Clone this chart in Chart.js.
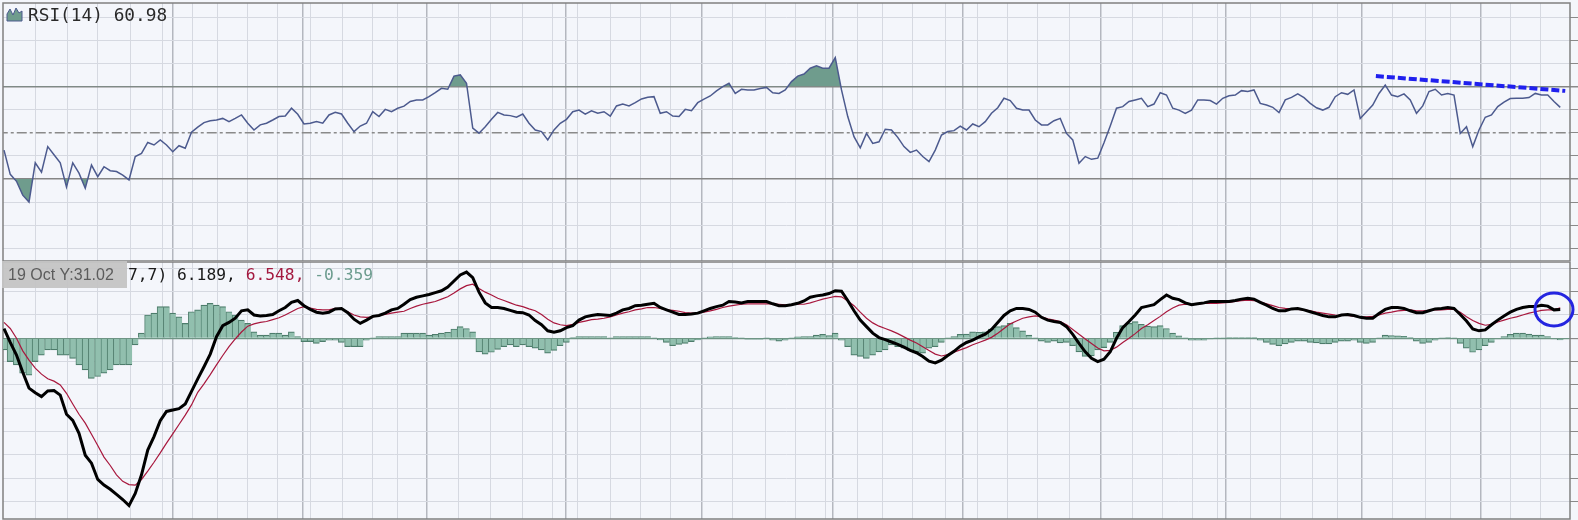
<!DOCTYPE html>
<html>
<head>
<meta charset="utf-8">
<script src="https://cdn.jsdelivr.net/npm/chart.js@4.4.1/dist/chart.umd.min.js"></script>
<style>
  html, body { margin: 0; padding: 0; background: #f4f6fb; }
  #wrap { position: relative; width: 1578px; height: 520px; overflow: hidden; }
  canvas { position: absolute; left: 0; }
  #rsi { top: 0; }
  #macd { top: 261px; }
</style>
</head>
<body>
<div id="wrap">
  <canvas id="rsi" width="1578" height="261"></canvas>
  <canvas id="macd" width="1578" height="259"></canvas>
</div>
<script>
// trading day index, one per bar
const days = Array.from({length: 250}, (_, i) => i);

const rsi = [
  42.5, 32, 29, 23, 20, 37, 33, 44, 40.5, 37,
  26.5, 37, 32.5, 26, 36, 31, 35.3, 33.6, 33.2, 31.7,
  29.6, 39.7, 41.1, 45.8, 44.7, 46.9, 44.7, 41.8, 44.4, 43.3,
  50.2, 52.4, 54.4, 55.2, 55.5, 56.2, 54.8, 56.2, 57.7, 54.1,
  51.2, 53.4, 54.1, 55.5, 57.0, 57.2, 60.6, 58.0, 53.8, 54.1,
  54.8, 54.1, 57.7, 58.8, 58.1, 54.1, 50.5, 52.9, 54.1, 59.1,
  57.0, 60.1, 59.1, 60.6,
  61.5, 63.5, 64.2, 64.2, 65.6, 67.3, 69.2, 68.8, 74.5, 75.0,
  71.4, 52, 49.8, 52.6, 55.8, 58.8, 57.7, 57.4, 56.7, 58.1,
  54.1, 51.2, 50.5, 46.9, 51.2, 54.1, 55.8, 59.1, 59.8, 58.0,
  59.5, 58.4, 59.1, 57.2, 61.6, 62.4, 61.6, 63.0, 64.6, 65.3,
  65.6, 58.4, 59.1, 57.2, 57.0, 60.1, 59.5, 63.0, 64.5, 65.9,
  68.1, 69.9, 71.4, 67.0, 68.8, 68.5, 68.5, 69.1, 69.6, 67.3,
  67.0, 68.5, 72.1, 74.5,
  75.4, 77.9, 78.9, 77.9, 77.9, 82.5, 68.5, 57.0, 48.3, 43.5,
  49.7, 45.4, 46.1, 51.5, 51.2, 48.0, 44.0, 41.5, 42.5, 39.7,
  37.5, 42.5, 49.0, 50.5, 50.9, 52.9, 51.2, 53.8, 52.6, 54.8,
  58.4, 60.8, 64.9, 63.9, 60.6, 59.8, 59.8, 55.5, 53.4, 53.4,
  55.2, 56.2, 49.7, 46.9, 36.8, 39.7, 38.5, 39.0, 45.7, 52.9,
  60.6, 61.3, 63.5, 64.2, 64.9, 61.3, 62.4, 67.3, 66.3, 60.6,
  59.8, 58.4, 59.8, 64.2,
  64.2, 63.9, 62.4, 64.9, 66.0, 66.3, 68.2, 67.8, 68.5, 62.7,
  62.0, 61.0, 58.7, 64.2, 65.3, 66.8, 65.2, 62.7, 60.8, 59.8,
  61.0, 65.6, 67.3, 66.6, 68.5, 56.2, 59.1, 62.0, 67.0, 70.6,
  66.3, 65.6, 66.8, 64.2, 58.4, 61.6, 67.8, 68.8, 66.3, 67.0,
  66.3, 49.7, 52.6, 44.0, 51.2, 56.7, 57.7, 61.3, 63.2, 64.8,
  64.9, 64.9, 65.2, 67.0, 66.3, 66.3, 63.5, 60.98
];

const macd = [
  2.1, -0.9, -3.6, -7.3, -10.7, -11.7, -12.5, -11.3, -11.2, -12.2,
  -16.3, -17.6, -20.4, -25.1, -26.8, -30.3, -31.5, -32.4, -33.5, -34.6,
  -35.9, -33.3, -29.3, -24.0, -21.1, -17.7, -15.7, -15.4, -15.1, -14.1,
  -11.4, -8.7, -6.1, -3.4, 0.35, 2.7, 3.4, 4.3, 5.9, 6.1,
  5.0, 4.8, 4.9, 5.1, 5.9, 6.6, 7.7, 8.1, 7.0, 6.2,
  5.6, 5.4, 5.6, 6.3, 6.4, 5.5, 4.1, 3.2, 3.9, 4.7,
  4.9, 5.4, 6.1, 6.4,
  7.3, 8.3, 8.8, 9.1, 9.4, 9.8, 10.2, 11.0, 12.3, 13.6,
  14.2, 13.0, 9.9, 7.6, 6.6, 6.6, 6.4, 6.0, 5.6, 5.5,
  5.0, 3.8, 2.9, 1.6, 1.3, 1.6, 2.3, 2.7, 3.9, 4.6,
  4.9, 5.1, 5.0, 4.9, 5.4, 6.1, 6.4, 7.0, 7.1, 7.3,
  7.5, 6.6, 6.1, 5.6, 5.1, 5.1, 5.2, 5.4, 5.9, 6.4,
  6.8, 7.1, 7.9, 7.8, 7.6, 7.9, 7.9, 7.9, 7.9, 7.4,
  7.0, 7.0, 7.2, 7.5,
  8.0, 8.8, 9.1, 9.3, 9.6, 10.2, 10.1, 8.1, 5.9, 3.9,
  2.5, 1.1, 0.15, -0.3, -0.8, -1.3, -1.9, -2.6, -3.1, -3.9,
  -4.9, -5.3, -4.7, -3.7, -2.8, -1.7, -0.9, -0.4, 0.3, 0.9,
  1.9, 3.4, 4.9, 5.9, 6.4, 6.4, 6.2, 5.6, 4.5, 3.9,
  3.6, 3.4, 2.5, 0.85, -1.1, -2.9, -4.3, -5.0, -4.5, -2.9,
  0, 2.3, 3.6, 5.0, 6.6, 6.9, 7.2, 8.3, 9.3, 8.6,
  8.3, 7.6, 7.2, 7.4,
  7.6, 7.9, 7.9, 7.9, 7.9, 8.1, 8.4, 8.6, 8.4, 7.7,
  7.1, 6.4, 5.9, 5.9, 6.3, 6.4, 6.1, 5.7, 5.3, 4.9,
  4.6, 4.6, 5.0, 5.1, 4.9, 4.5, 4.3, 4.3, 5.3, 6.2,
  6.6, 6.6, 6.4, 5.9, 5.5, 5.5, 5.9, 6.3, 6.4, 6.6,
  6.4, 5.1, 3.7, 2.0, 1.6, 1.8, 2.9, 3.9, 4.8, 5.6,
  6.2, 6.6, 6.8, 6.8, 7.1, 6.9, 6.1, 6.189
];

const signal = [
  3.4, 2.1, 0, -2.7, -4.7, -6.4, -7.7, -8.7, -9.2, -10.0,
  -11.8, -14.1, -16.3, -18.2, -20.6, -23.0, -25.5, -27.3, -29.3, -30.7,
  -31.4, -31.5, -30.3, -28.5, -26.6, -24.6, -22.5, -20.5, -18.5, -16.5,
  -14.3, -11.6, -9.8, -7.8, -5.7, -3.7, -1.8, -0.15, 1.35, 2.6,
  3.1, 3.4, 3.6, 4.0, 4.4, 5.0, 5.7, 6.4, 6.8, 6.5,
  6.2, 6.1, 6.1, 6.4, 6.3, 5.7, 5.0, 4.6, 4.5, 4.6,
  4.9, 5.1, 5.4, 5.6,
  5.8, 6.4, 6.9, 7.3, 7.6, 7.9, 8.4, 8.9, 9.7, 10.6,
  11.3, 11.6, 10.7, 9.9, 9.3, 8.6, 8.1, 7.6, 7.1, 6.8,
  6.3, 5.9, 5.1, 4.1, 3.3, 2.9, 2.7, 3.0, 3.4, 3.7,
  4.0, 4.1, 4.3, 4.6, 5.0, 5.4, 5.7, 6.1, 6.3, 6.6,
  6.6, 6.4, 6.1, 6.0, 5.8, 5.5, 5.4, 5.4, 5.6, 5.9,
  6.2, 6.6, 6.9, 7.1, 7.3, 7.4, 7.4, 7.4, 7.4, 7.4,
  7.3, 7.2, 7.2, 7.3,
  7.3, 7.6, 8.0, 8.4, 8.7, 9.0, 8.9, 8.0, 7.0, 5.6,
  4.3, 3.3, 2.6, 2.1, 1.6, 1.0, 0.3, -0.4, -1.0, -1.8,
  -2.6, -3.4, -3.8, -3.5, -3.0, -2.5, -2.0, -1.4, -0.9, -0.4,
  0.2, 1.1, 2.1, 3.1, 3.7, 4.3, 4.6, 4.8, 4.6, 4.2,
  3.9, 3.6, 2.9, 1.9, 0.85, -0.15, -1.1, -2.1, -2.7, -2.6,
  -1.9, -0.9, 0, 1.0, 2.1, 2.9, 3.8, 4.7, 5.7, 6.5,
  7.1, 7.3, 7.2, 7.3,
  7.5, 7.5, 7.5, 7.6, 7.7, 7.9, 8.1, 8.2, 8.1, 7.8,
  7.4, 7.0, 6.6, 6.4, 6.3, 6.2, 6.1, 5.9, 5.6, 5.4,
  5.2, 5.0, 4.9, 4.9, 4.7, 4.6, 4.6, 4.7, 5.0, 5.4,
  5.6, 5.9, 6.0, 6.1, 5.9, 5.9, 6.0, 6.1, 6.1, 6.2,
  6.2, 5.6, 4.6, 3.8, 3.2, 2.8, 3.0, 3.5, 3.9, 4.3,
  4.6, 5.0, 5.4, 5.7, 6.0, 6.1, 6.1, 6.548
];

const hist = [
  -2.5, -5.0, -5.7, -7.5, -7.9, -5.0, -3.6, -2.5, -2.5, -3.6,
  -3.6, -4.3, -5.7, -6.8, -8.6, -8.2, -7.5, -6.8, -5.7, -5.7,
  -5.7, -1.4, 1.1, 5.0, 5.4, 6.8, 6.8, 5.4, 4.6, 3.2,
  5.7, 6.1, 7.1, 7.5, 7.1, 6.8, 5.7, 5.0, 3.9, 3.2,
  1.4, 0.7, 0.7, 1.1, 1.1, 0.7, 1.4, 0.35, -0.7, -0.7,
  -1.1, -0.7, -0.4, -0.4, -0.9, -1.8, -1.8, -1.8, -0.4, 0.1,
  0.35, 0.35, 0.35, 0.35,
  1.1, 1.1, 1.1, 1.1, 0.7, 0.85, 1.1, 1.3, 2.0, 2.5,
  2.1, 1.4, -2.9, -3.4, -3.0, -2.4, -1.8, -1.4, -1.8, -1.4,
  -1.8, -2.1, -2.5, -3.2, -2.6, -1.6, -0.9, 0.15, 0.35, 0.35,
  0.35, 0.35, 0.35, 0.1, 0.35, 0.35, 0.35, 0.35, 0.35, 0.35,
  0.1, -0.36, -0.9, -1.6, -1.3, -1.1, -0.7, -0.36, 0.1, 0.3,
  0.35, 0.35, 0.35, 0.15, 0.1, -0.2, -0.2, -0.2, 0.1, -0.4,
  -0.6, -0.4, 0.1, 0.3,
  0.35, 0.35, 0.7, 0.85, 0.6, 1.1, -0.4, -1.8, -3.6, -3.9,
  -4.3, -3.6, -2.9, -2.5, -1.4, -1.8, -2.1, -2.6, -2.9, -3.2,
  -2.1, -1.8, -0.9, 0.1, 0.35, 0.85, 0.9, 1.4, 1.3, 1.4,
  2.0, 2.5, 2.7, 3.2, 2.3, 1.6, 0.7, 0.1, -0.6, -0.9,
  -0.6, -1.0, -0.9, -1.6, -2.9, -3.9, -3.8, -2.5, -2.0, -0.9,
  1.3, 2.7, 3.2, 3.6, 3.0, 2.6, 2.5, 2.7, 2.1, 1.1,
  0.5, 0.1, -0.4, -0.4,
  -0.4, -0.15, 0.1, 0.1, 0.15, 0.15, 0.15, 0.15, 0.15, -0.4,
  -0.9, -1.3, -1.6, -1.2, -0.9, -0.6, -0.6, -0.9, -1.0, -1.2,
  -1.2, -0.9, -0.6, -0.6, -0.4, -0.9, -1.1, -0.9, 0.1, 0.7,
  0.6, 0.5, 0.4, 0.15, -0.6, -1.1, -0.9, -0.4, 0.1, 0.15,
  0.1, -1.1, -2.1, -3.0, -2.5, -1.6, -0.9, -0.15, 0.35, 0.85,
  1.1, 1.1, 0.9, 0.7, 0.7, 0.35, -0.15, -0.359
];

// drawn trend line on the RSI (day index, RSI value)
const trendDays = [219.5, 249.8];
const trendValues = [74.5, 68.1];

// vertical grid: weekly and month-start lines, in day index units
const weekGrid = [5, 10.1, 15, 20.2, 25.3, 30.2, 34.2, 39, 43.8, 49, 54.2, 59, 63,
  72.8, 77.8, 82.9, 87.8, 91.8, 97, 101.8, 106.6, 116.6, 121.8, 126.7, 131.5,
  136.6, 140.5, 145.4, 150.6, 155.7, 160.5, 165.4, 170.4, 180.6, 185.4, 190.2,
  194.2, 199.4, 204.3, 209.4, 213.4, 222.2, 227.4, 231.4, 241.1, 245.9];
const monthGrid = [27, 47.8, 67.7, 89.9, 111.7, 132.6, 153.4, 175.5, 195.5, 217.3, 236.3];

const rsiTicks = [0, 10, 20, 30, 40, 50, 60, 70, 80, 90, 100];
const rsiLevels = [30, 50, 70];
const macdTicks = [-35, -30, -25, -20, -15, -10, -5, 0, 5, 10, 15];

const bg = '#f4f6fb';
const gridLight = '#d6d9e1';
const gridMonth = '#b4b7bf';
const frameColor = '#808080';
const areaFill = '#6f9c8d';
const histEdge = '#4d7c6b';

const isMonth = c => !!c.tick && monthGrid.includes(c.tick.value);

function xAxis() {
  return {
    type: 'linear',
    min: -0.16,
    max: 250.56,
    offset: false,
    ticks: { display: false },
    border: { display: false },
    grid: {
      offset: false,
      drawTicks: false,
      color: c => isMonth(c) ? gridMonth : gridLight,
      lineWidth: c => isMonth(c) ? 1.5 : 1
    },
    afterBuildTicks: s => {
      s.ticks = weekGrid.concat(monthGrid).sort((a, b) => a - b).map(v => ({ value: v }));
    }
  };
}

const panelFrame = {
  id: 'panelFrame',
  beforeDraw(chart) {
    const ctx = chart.ctx;
    ctx.save();
    ctx.fillStyle = bg;
    ctx.fillRect(0, 0, chart.width, chart.height);
    ctx.restore();
  },
  beforeDatasetsDraw(chart) {
    const a = chart.chartArea;
    const ctx = chart.ctx;
    ctx.save();
    ctx.strokeStyle = frameColor;
    ctx.lineWidth = 1.5;
    ctx.strokeRect(a.left, a.top, a.right - a.left, a.bottom - a.top);
    ctx.restore();
  }
};

const rsiLabel = {
  id: 'rsiLabel',
  afterDraw(chart) {
    const ctx = chart.ctx;
    ctx.save();
    // little area-chart icon
    ctx.beginPath();
    ctx.moveTo(7, 21);
    ctx.lineTo(7, 14);
    ctx.lineTo(10, 9);
    ctx.lineTo(13, 15);
    ctx.lineTo(16, 8);
    ctx.lineTo(19, 13);
    ctx.lineTo(22, 11);
    ctx.lineTo(22, 21);
    ctx.closePath();
    ctx.fillStyle = areaFill;
    ctx.fill();
    ctx.strokeStyle = '#4c5a8e';
    ctx.lineWidth = 1;
    ctx.stroke();
    ctx.font = '17.8px "DejaVu Sans Mono"';
    ctx.fillStyle = '#2a2a2a';
    ctx.textBaseline = 'alphabetic';
    ctx.fillText('RSI(14) ' + rsi[rsi.length - 1].toFixed(2), 28, 20.5);
    ctx.restore();
  }
};

const macdLabel = {
  id: 'macdLabel',
  afterDatasetsDraw(chart) {
    const ctx = chart.ctx;
    const xs = chart.scales.x, ys = chart.scales.y;
    // highlight circle around the latest MACD value
    ctx.save();
    ctx.beginPath();
    ctx.ellipse(xs.getPixelForValue(days.length - 2), ys.getPixelForValue(macd[macd.length - 1]), 19, 16.5, 0, 0, Math.PI * 2);
    ctx.strokeStyle = '#2424e0';
    ctx.lineWidth = 3;
    ctx.stroke();
    ctx.restore();
  },
  afterDraw(chart) {
    const ctx = chart.ctx;
    ctx.save();
    ctx.font = '16.3px "DejaVu Sans Mono"';
    ctx.textBaseline = 'alphabetic';
    let x = 128;
    const parts = [
      ['7,7) ', '#1a1a1a'],
      [macd[macd.length - 1].toFixed(3) + ', ', '#1a1a1a'],
      [signal[signal.length - 1].toFixed(3) + ', ', '#a3193f'],
      [hist[hist.length - 1].toFixed(3), '#6d9c8f']
    ];
    parts.forEach(([t, c]) => {
      ctx.fillStyle = c;
      ctx.fillText(t, x, 19);
      x += ctx.measureText(t).width;
    });
    // crosshair readout box
    ctx.fillStyle = 'rgba(196,196,196,0.95)';
    ctx.fillRect(2, 0, 125, 27);
    ctx.font = '16px "Liberation Sans"';
    ctx.fillStyle = '#5c5c5c';
    ctx.fillText('19 Oct Y:31.02', 8, 19);
    ctx.restore();
  }
};

new Chart(document.getElementById('rsi'), {
  type: 'line',
  data: {
    labels: days,
    datasets: [
      {
        label: 'trend',
        data: trendDays.map((d, i) => ({ x: d, y: trendValues[i] })),
        borderColor: '#2020ee',
        borderWidth: 4,
        borderDash: [8, 3],
        pointRadius: 0,
        order: 0
      },
      {
        label: 'RSI',
        data: rsi,
        borderColor: '#4c5a8e',
        borderWidth: 1.5,
        pointRadius: 0,
        tension: 0,
        fill: { target: { value: 70 }, above: areaFill, below: 'rgba(0,0,0,0)' },
        order: 1
      },
      {
        label: 'RSI low',
        data: rsi,
        borderColor: 'rgba(0,0,0,0)',
        borderWidth: 0,
        pointRadius: 0,
        tension: 0,
        fill: { target: { value: 30 }, above: 'rgba(0,0,0,0)', below: areaFill },
        order: 2
      },
      {
        label: 'mid',
        data: [{ x: -1, y: rsiLevels[1] }, { x: 252, y: rsiLevels[1] }],
        borderColor: '#8a8a8a',
        borderWidth: 1.5,
        borderDash: [10, 3, 3, 3],
        pointRadius: 0,
        order: 3
      }
    ]
  },
  options: {
    responsive: false,
    animation: false,
    devicePixelRatio: 1,
    layout: { padding: { left: 3, top: 3, right: 0, bottom: 0 } },
    plugins: { legend: { display: false }, tooltip: { enabled: false } },
    scales: {
      x: xAxis(),
      y: {
        position: 'right',
        min: -5.46,
        max: 106.1,
        ticks: { display: false },
        border: { display: false },
        grid: {
          drawTicks: true,
          tickLength: 8,
          tickColor: '#8a8a8a',
          color: c => !c.tick ? gridLight
            : (c.tick.value === rsiLevels[0] || c.tick.value === rsiLevels[2]) ? '#858585'
            : (c.tick.value === rsiLevels[1] ? 'rgba(0,0,0,0)' : gridLight),
          lineWidth: c => (c.tick && (c.tick.value === rsiLevels[0] || c.tick.value === rsiLevels[2])) ? 1.5 : 1
        },
        afterBuildTicks: s => { s.ticks = rsiTicks.map(v => ({ value: v })); }
      }
    }
  },
  plugins: [panelFrame, rsiLabel]
});

new Chart(document.getElementById('macd'), {
  type: 'bar',
  data: {
    labels: days,
    datasets: [
      {
        type: 'line',
        label: 'MACD',
        data: macd,
        borderColor: '#000000',
        borderWidth: 3,
        pointRadius: 0,
        tension: 0,
        order: 0
      },
      {
        type: 'line',
        label: 'Signal',
        data: signal,
        borderColor: '#a8173d',
        borderWidth: 1.2,
        pointRadius: 0,
        tension: 0,
        order: 1
      },
      {
        type: 'bar',
        label: 'Histogram',
        data: hist,
        backgroundColor: '#91bfae',
        borderColor: histEdge,
        borderWidth: { left: 1, right: 0, top: 1.2, bottom: 1.2 },
        barPercentage: 1,
        categoryPercentage: 1,
        order: 2
      }
    ]
  },
  options: {
    responsive: false,
    animation: false,
    devicePixelRatio: 1,
    layout: { padding: { left: 3, top: 1, right: 0, bottom: 1 } },
    plugins: { legend: { display: false }, tooltip: { enabled: false } },
    scales: {
      x: xAxis(),
      y: {
        position: 'right',
        min: -38.78,
        max: 16.37,
        ticks: { display: false },
        border: { display: false },
        grid: {
          drawTicks: true,
          tickLength: 8,
          tickColor: '#8a8a8a',
          color: c => (c.tick && c.tick.value === 0) ? '#6f9585' : gridLight,
          lineWidth: c => (c.tick && c.tick.value === 0) ? 1.2 : 1
        },
        afterBuildTicks: s => { s.ticks = macdTicks.map(v => ({ value: v })); }
      }
    }
  },
  plugins: [panelFrame, macdLabel]
});
</script>
</body>
</html>
